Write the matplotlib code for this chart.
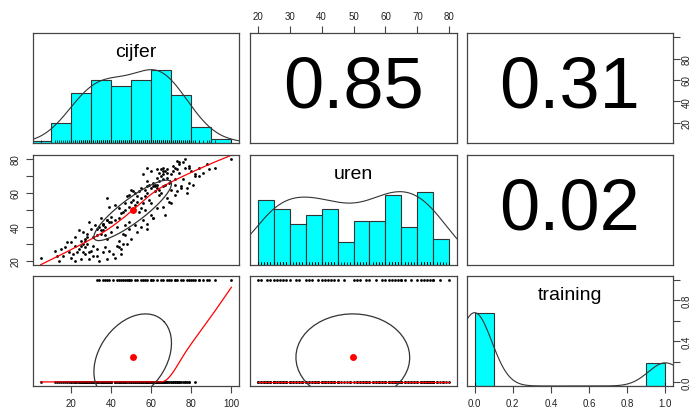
import numpy as np
import matplotlib.pyplot as plt

plt.rcParams['font.family'] = ['Liberation Sans', 'DejaVu Sans']

names = ['cijfer', 'uren', 'training']

uren = [20, 20, 21, 21, 22, 22, 22, 23, 23, 23, 24, 24, 24, 25, 25, 25, 25, 20, 21, 23, 24, 25,
        26, 26, 27, 27, 27, 28, 28, 28, 29, 29, 29, 30, 30, 30, 26, 27, 28, 29, 30,
        31, 31, 32, 32, 33, 33, 34, 34, 34, 35, 35, 32, 33, 35,
        36, 36, 37, 37, 38, 38, 38, 39, 39, 39, 40, 40, 40, 36, 37, 39, 40,
        41, 41, 41, 42, 42, 43, 43, 43, 44, 44, 44, 45, 45, 45, 41, 42, 43, 44, 45,
        46, 47, 48, 49, 49, 50, 47, 50,
        51, 51, 52, 52, 53, 53, 54, 54, 54, 55, 55, 51, 52, 54, 55,
        56, 56, 57, 57, 58, 58, 58, 59, 59, 60, 60, 60, 57, 59, 60,
        61, 61, 61, 62, 62, 62, 63, 63, 63, 63, 64, 64, 64, 64, 65, 65, 65, 65, 61, 62, 63, 64, 65, 65,
        66, 66, 67, 67, 68, 68, 69, 69, 70, 70, 66, 68, 70,
        71, 71, 71, 72, 72, 72, 73, 73, 73, 73, 74, 74, 74, 74, 75, 75, 75, 75, 75, 71, 72, 73, 74, 75, 75,
        76, 76, 77, 78, 78, 79, 80, 77, 80]
cijfer = [14, 22, 25, 29, 5, 42, 20, 13, 31, 16, 21, 27, 45, 23, 19, 29, 26, 34, 38, 33, 41, 36,
          12, 30, 24, 33, 15, 27, 17, 44, 25, 31, 22, 28, 46, 26, 39, 45, 37, 43, 48,
          20, 18, 27, 25, 38, 27, 31, 28, 22, 33, 37, 44, 50, 47,
          28, 35, 40, 26, 24, 36, 35, 33, 58, 30, 37, 43, 34, 46, 53, 49, 55,
          32, 36, 47, 36, 36, 39, 40, 29, 42, 38, 38, 35, 61, 44, 52, 58, 49, 56, 61,
          40, 67, 45, 46, 54, 47, 60, 57,
          44, 55, 49, 39, 42, 52, 47, 56, 70, 50, 53, 63, 66, 60, 69,
          51, 59, 38, 55, 48, 53, 57, 64, 49, 58, 52, 78, 68, 72, 65,
          54, 62, 51, 57, 64, 50, 60, 75, 55, 63, 58, 66, 61, 62, 62, 63, 59, 67, 73, 70, 78, 75, 81, 72,
          61, 69, 64, 58, 66, 72, 63, 68, 65, 82, 79, 76, 84,
          56, 70, 66, 68, 64, 74, 71, 60, 67, 66, 65, 73, 68, 63, 72, 77, 66, 79, 58, 82, 86, 80, 89, 84, 92,
          71, 79, 74, 74, 76, 73, 77, 88, 100]
training = [0, 0, 0, 0, 0, 0, 0, 0, 0, 0, 0, 0, 0, 0, 0, 0, 0, 1, 1, 1, 1, 1,
            0, 0, 0, 0, 0, 0, 0, 0, 0, 0, 0, 0, 0, 0, 1, 1, 1, 1, 1,
            0, 0, 0, 0, 0, 0, 0, 0, 0, 0, 0, 1, 1, 1,
            0, 0, 0, 0, 0, 0, 0, 0, 0, 0, 0, 0, 0, 1, 1, 1, 1,
            0, 0, 0, 0, 0, 0, 0, 0, 0, 0, 0, 0, 0, 0, 1, 1, 1, 1, 1,
            0, 0, 0, 0, 0, 0, 1, 1,
            0, 0, 0, 0, 0, 0, 0, 0, 0, 0, 0, 1, 1, 1, 1,
            0, 0, 0, 0, 0, 0, 0, 0, 0, 0, 0, 0, 1, 1, 1,
            0, 0, 0, 0, 0, 0, 0, 0, 0, 0, 0, 0, 0, 0, 0, 0, 0, 0, 1, 1, 1, 1, 1, 1,
            0, 0, 0, 0, 0, 0, 0, 0, 0, 0, 1, 1, 1,
            0, 0, 0, 0, 0, 0, 0, 0, 0, 0, 0, 0, 0, 0, 0, 0, 0, 0, 0, 1, 1, 1, 1, 1, 1,
            0, 0, 0, 0, 0, 0, 0, 1, 1]

cor_labels = {(0, 1): '0.85', (0, 2): '0.31', (1, 2): '0.02'}

data = [np.array(cijfer, float), np.array(uren, float), np.array(training, float)]
breaks = [np.arange(0, 101, 10), np.arange(20, 81, 5), np.linspace(0, 1, 11)]
bw_fixed = [None, None, 0.09]


def rng(v):
    d = v.max() - v.min()
    return v.min() - 0.04 * d, v.max() + 0.04 * d


def bw_nrd(v):
    q1, q3 = np.percentile(v, [25, 75])
    return 1.06 * min(v.std(ddof=1), (q3 - q1) / 1.34) * len(v) ** -0.2


def lowess(x, y, f=2 / 3, it=3):
    o = np.argsort(x, kind='stable')
    x = x[o]
    y = y[o]
    n = len(x)
    ns = max(min(int(f * n + 1e-7), n), 2)
    rw = np.ones(n)
    ys = np.zeros(n)
    for k in range(it + 1):
        for i in range(n):
            d = np.abs(x - x[i])
            h = np.sort(d)[ns - 1]
            w = np.zeros(n)
            if h > 0:
                r = d / h
                w = np.where(r < 0.999, (1 - r ** 3) ** 3, 0.0)
                w[d <= 0.001 * h] = 1.0
            else:
                w[d == 0] = 1.0
            w = w * rw
            if w.sum() <= 0:
                ys[i] = y[i]
                continue
            w = w / w.sum()
            a = np.sum(w * x)
            b = x[i] - a
            c = np.sum(w * (x - a) ** 2)
            if np.sqrt(c) > 0.001 * (x[-1] - x[0]):
                w = w * (b * (x - a) / c + 1)
            ys[i] = np.sum(w * y)
        if k == it:
            break
        res = y - ys
        cmad = 6 * np.median(np.abs(res))
        if cmad < 1e-7 * np.mean(np.abs(res)) or cmad == 0:
            break
        r = np.abs(res) / cmad
        rw = np.where(r < 1, (1 - r ** 2) ** 2, 0.0)
        rw[np.abs(res) <= 0.001 * cmad] = 1.0
    return x, ys


W, H = 693, 410
lefts = [33, 250, 467]
widths = [206, 207, 206]
tops = [34, 156, 277]
ph = 110
frame = '#444444'

fig = plt.figure(figsize=(6.93, 4.10), dpi=100)
axes = {}
for i in range(3):
    for j in range(3):
        ax = fig.add_axes([lefts[j] / W, 1 - (tops[i] + ph) / H, widths[j] / W, ph / H])
        for s in ax.spines.values():
            s.set_color(frame)
            s.set_linewidth(0.9)
        ax.set_xticks([])
        ax.set_yticks([])
        axes[i, j] = ax
        x = data[j]
        y = data[i]
        ax.set_xlim(rng(x))
        if i == j:
            ax.set_ylim(0, 1.5)
            br = breaks[i]
            idx = np.searchsorted(br, x, side='left') - 1
            idx[idx < 0] = 0
            counts = np.bincount(idx, minlength=len(br) - 1)[:len(br) - 1]
            ax.bar(br[:-1], counts / counts.max(), width=np.diff(br), align='edge',
                   color='cyan', edgecolor='#333333', linewidth=0.8)
            bw = bw_fixed[i] if bw_fixed[i] else bw_nrd(x) * 1.2
            g = np.linspace(x.min() - 3 * bw, x.max() + 3 * bw, 512)
            dens = np.exp(-0.5 * ((g[:, None] - x[None, :]) / bw) ** 2).sum(1)
            ax.plot(g, dens / dens.max(), color='#333333', lw=0.8)
            ax.vlines(x, 0, 0.045, color='black', lw=0.5)
            ax.text(0.5, 0.83, names[i], transform=ax.transAxes, ha='center', va='center',
                    fontsize=14)
        elif i < j:
            ax.set_ylim(rng(y))
            ax.text(0.5, 0.5, cor_labels[i, j], transform=ax.transAxes, ha='center',
                    va='center', fontsize=52)
        else:
            ax.set_ylim(rng(y))
            ax.plot(x, y, 'o', color='black', ms=2, mew=0)
            lx, ly = lowess(x, y)
            ax.plot(lx, ly, color='red', lw=0.9)
            xm, ym = x.mean(), y.mean()
            xs, ys_ = x.std(ddof=1), y.std(ddof=1)
            r = np.corrcoef(x, y)[0, 1]
            th = np.sign(r) / np.sqrt(2) if abs(r) > 0 else 1 / np.sqrt(2)
            shape = np.diag([np.sqrt(1 + r), np.sqrt(1 - r)]) @ np.array([[th, th], [-th, th]])
            ang = np.arange(52) * 2 * np.pi / 51
            ell = np.column_stack([np.cos(ang), np.sin(ang)]) @ shape
            ax.plot(ell[:, 0] * xs + xm, ell[:, 1] * ys_ + ym, color='#333333', lw=0.9)
            ax.plot(xm, ym, 'o', color='red', ms=5, mew=0)


def tick_style(a, axis, pad=4):
    a.tick_params(axis=axis, length=5, width=0.8, color=frame, labelsize=7,
                  labelcolor='#222222', pad=pad)


# top axis (uren)
a = axes[0, 1]
a.xaxis.tick_top()
a.set_xticks(np.arange(20, 81, 10))
tick_style(a, 'x')

# right axis row 1 (cijfer)
a = axes[0, 2]
a.yaxis.tick_right()
a.set_yticks([20, 40, 60, 80, 100])
a.set_yticklabels(['20', '40', '60', '80', ''])
tick_style(a, 'y', pad=1)
a.tick_params(axis='y', labelrotation=90)

# left axis row 2 (uren)
a = axes[1, 0]
a.set_yticks(np.arange(20, 81, 10))
a.set_yticklabels(['20', '', '40', '', '60', '', '80'])
tick_style(a, 'y')
a.tick_params(axis='y', labelrotation=90)

# bottom axis col 1 (cijfer)
a = axes[2, 0]
a.set_xticks([20, 40, 60, 80, 100])
tick_style(a, 'x')

# bottom axis col 3 (training)
a = axes[2, 2]
a.set_xticks(np.linspace(0, 1, 6))
a.set_xticklabels(['0.0', '0.2', '0.4', '0.6', '0.8', '1.0'])
tick_style(a, 'x')

# right axis row 3 (training)
t = a.twinx()
t.set_ylim(rng(data[2]))
t.set_yticks(np.linspace(0, 1, 6))
t.set_yticklabels(['0.0', '', '0.4', '', '0.8', ''])
for s in t.spines.values():
    s.set_visible(False)
tick_style(t, 'y', pad=1)
t.tick_params(axis='y', labelrotation=90)

for a in [axes[0, 2], axes[1, 0], t]:
    for lab in a.get_yticklabels():
        lab.set_va('center')

fig.savefig('out.png', dpi=100, facecolor='white')
